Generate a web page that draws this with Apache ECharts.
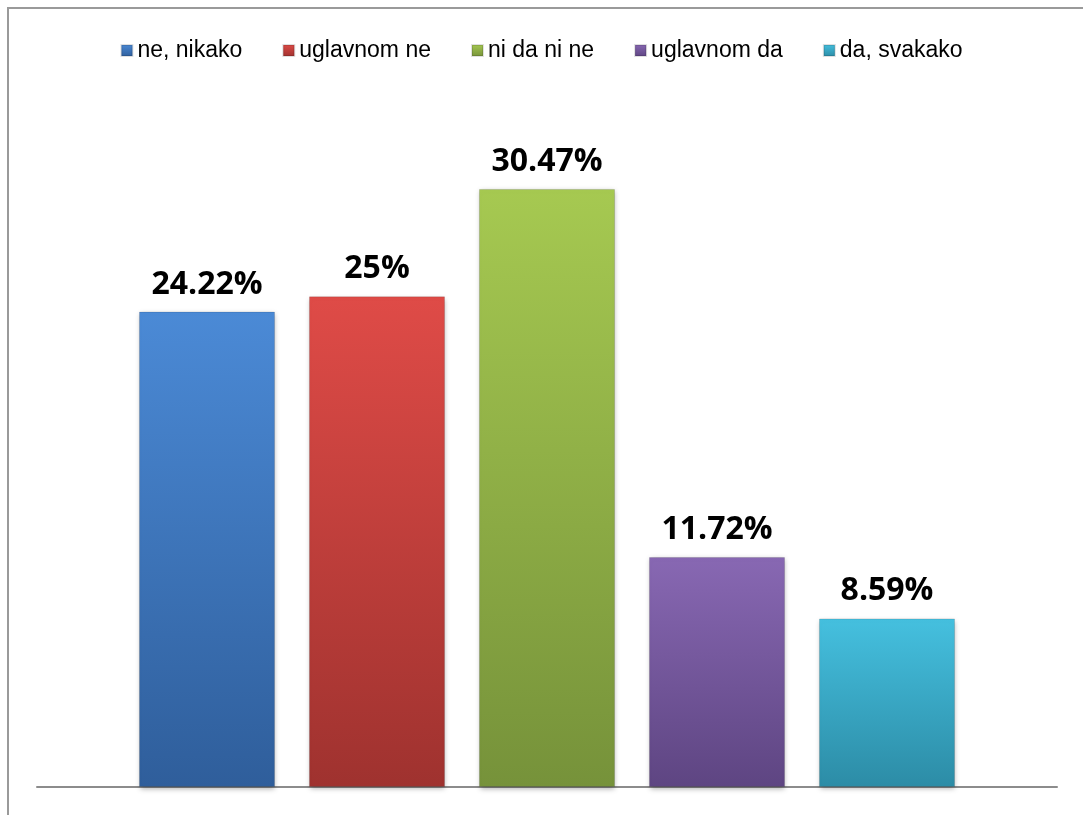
<!DOCTYPE html>
<html style="height: 100%">
<head>
<meta charset="UTF-8">
<style type="text/css">
  body { height: 100%; margin: 0; background: #fff; }
  #frame {
    position: absolute; left: 7px; top: 7px; right: 0; bottom: 0;
    border-top: 2px solid #9a9a9a; border-left: 2px solid #9a9a9a;
  }
  #container { position: absolute; left: 0; top: 0; width: 1083px; height: 815px; }
</style>
</head>
<body>
<div id="frame"></div>
<div id="container"></div>
<script type="text/javascript" src="https://cdn.jsdelivr.net/npm/echarts@6.0.0/dist/echarts.min.js"></script>
<script type="text/javascript">
var names = ['ne, nikako', 'uglavnom ne', 'ni da ni ne', 'uglavnom da', 'da, svakako'];
var values = [24.22, 25, 30.47, 11.72, 8.59];
var topColors = ['#4b8ad6', '#df4b47', '#a6c951', '#8868b3', '#45c0df'];
var bottomColors = ['#2f5e9b', '#9f322f', '#76923a', '#5e4582', '#2c8ca6'];

var myChart = echarts.init(document.getElementById('container'));
var option;

var series = [];
for (var i = 0; i < names.length; i++) {
    series.push({
        name: names[i],
        type: 'bar',
        data: [values[i]],
        barWidth: 136,
        barGap: '25%',
        itemStyle: {
            color: new echarts.graphic.LinearGradient(0, 0, 0, 1, [
                { offset: 0, color: topColors[i] },
                { offset: 1, color: bottomColors[i] }
            ]),
            borderColor: 'rgba(0,0,0,0.12)',
            borderWidth: 1,
            shadowColor: 'rgba(0,0,0,0.3)',
            shadowBlur: 5,
            shadowOffsetY: 2
        },
        label: {
            show: true,
            position: 'top',
            distance: 11,
            color: '#000',
            fontWeight: 'bold',
            fontSize: 32,
            fontFamily: 'Open Sans, Liberation Sans, sans-serif',
            formatter: function (p) { return p.value + '%'; }
        }
    });
}

option = {
    animation: false,
    color: topColors,
    legend: {
        top: 34,
        left: 'center',
        itemWidth: 11,
        itemHeight: 11,
        itemGap: 40,
        icon: 'rect',
        textStyle: { fontSize: 23, color: '#000', fontFamily: 'Liberation Sans, Noto Sans, sans-serif', padding: [0, 0, 0, 0] },
        data: names
    },
    grid: { left: 37, right: 26, top: 100, bottom: 28 },
    xAxis: {
        type: 'category',
        data: [''],
        axisTick: { show: false },
        axisLabel: { show: false },
        axisLine: { lineStyle: { color: '#8c8c8c', width: 2 } }
    },
    yAxis: {
        type: 'value',
        min: 0,
        max: 35,
        show: false,
        splitLine: { show: false }
    },
    series: series
};
option && myChart.setOption(option);
</script>
</body>
</html>
